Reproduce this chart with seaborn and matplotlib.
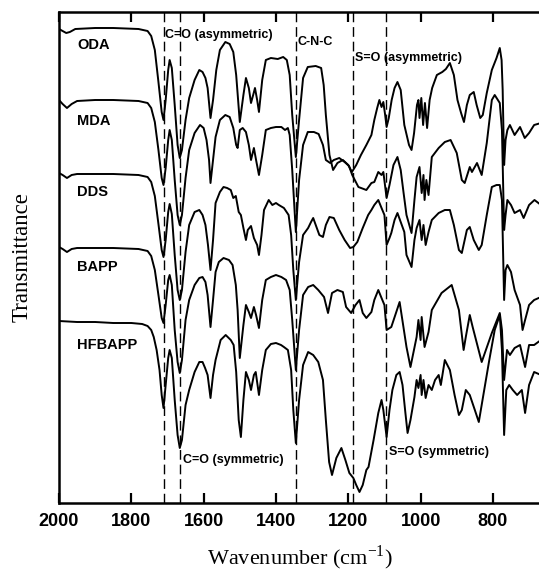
import matplotlib
matplotlib.use("Agg")
import matplotlib.pyplot as plt
import pandas as pd
import seaborn as sns

# FTIR traces: (wavenumber cm-1, transmittance, arbitrary units)
ODA = [(2000,471),(1990,469),(1980,467),(1970,468),(1955,471),(1900,472),(1850,472),(1780,471),(1755,469),(1745,464),(1735,450),(1725,418),(1716,388),(1711,380),(1705,400),(1698,430),(1694,440),(1688,432),(1680,395),(1672,355),(1666,342),(1660,350),(1650,380),(1640,402),(1625,420),(1612,430),(1603,428),(1595,422),(1589,412),(1581,382),(1574,400),(1565,430),(1555,450),(1540,458),(1528,456),(1518,448),(1510,425),(1500,378),(1490,405),(1483,422),(1475,412),(1469,397),(1463,405),(1458,412),(1452,400),(1447,388),(1438,420),(1428,440),(1414,442),(1395,441),(1380,443),(1370,440),(1362,425),(1355,385),(1345,343),(1336,380),(1325,422),(1312,433),(1290,434),(1275,432),(1268,415),(1262,385),(1252,345),(1242,330),(1230,337),(1215,340),(1200,335),(1190,328),(1178,335),(1165,345),(1150,355),(1136,365),(1128,380),(1120,392),(1114,400),(1108,393),(1103,398),(1098,385),(1094,373),(1088,382),(1080,400),(1072,412),(1064,418),(1055,410),(1045,375),(1032,355),(1025,350),(1018,367),(1010,395),(1006,400),(1003,382),(998,402),(993,375),(988,397),(982,372),(975,400),(968,412),(955,425),(940,428),(930,431),(919,437),(908,425),(898,400),(888,387),(880,378),(872,395),(864,405),(853,408),(845,395),(835,382),(828,385),(817,407),(803,430),(790,442),(781,452),(776,440),(773,410),(769,335),(765,360),(760,370),(753,375),(740,365),(725,373),(712,362),(700,367),(686,375),(667,377)]

MDA = [(2000,400),(1990,396),(1978,392),(1965,396),(1950,399),(1900,400),(1850,400),(1780,399),(1755,397),(1745,392),(1735,378),(1725,350),(1716,322),(1711,315),(1705,332),(1698,360),(1694,370),(1688,360),(1680,320),(1672,285),(1666,275),(1660,285),(1650,322),(1640,350),(1625,367),(1610,375),(1600,372),(1592,360),(1585,340),(1581,317),(1574,340),(1567,363),(1555,380),(1540,385),(1528,383),(1518,372),(1510,355),(1506,352),(1500,370),(1492,372),(1483,368),(1475,355),(1469,340),(1461,352),(1455,340),(1447,325),(1438,345),(1428,370),(1414,372),(1400,373),(1385,373),(1375,370),(1367,372),(1362,365),(1355,330),(1345,268),(1336,320),(1325,355),(1312,368),(1295,368),(1282,366),(1270,355),(1262,340),(1250,337),(1240,340),(1225,342),(1210,338),(1198,334),(1189,325),(1172,313),(1150,310),(1136,317),(1128,318),(1117,328),(1108,325),(1103,328),(1094,302),(1086,315),(1075,335),(1064,343),(1055,330),(1047,307),(1039,285),(1025,267),(1017,300),(1011,323),(1003,333),(997,307),(992,325),(989,300),(984,320),(978,305),(969,343),(950,352),(933,358),(917,360),(900,347),(886,320),(878,317),(864,333),(858,328),(844,337),(831,325),(817,357),(803,400),(795,405),(781,397),(775,370),(769,270),(765,285),(760,300),(750,295),(740,287),(725,290),(715,282),(700,295),(685,300),(667,295)]

DDS = [(2000,327),(1990,325),(1978,322),(1965,325),(1950,326),(1900,326),(1850,326),(1780,325),(1755,323),(1745,318),(1735,304),(1725,276),(1716,250),(1711,243),(1705,260),(1698,288),(1694,296),(1688,286),(1680,245),(1672,210),(1666,200),(1660,210),(1650,248),(1640,275),(1625,288),(1612,290),(1603,285),(1595,275),(1588,255),(1581,230),(1574,260),(1567,297),(1555,308),(1545,313),(1535,312),(1525,310),(1518,302),(1511,304),(1503,288),(1497,285),(1490,272),(1483,260),(1478,270),(1469,274),(1461,262),(1452,255),(1447,245),(1440,265),(1433,290),(1420,300),(1410,295),(1400,297),(1392,295),(1378,292),(1365,285),(1358,265),(1352,230),(1345,200),(1336,238),(1325,265),(1311,272),(1303,278),(1297,282),(1290,275),(1280,265),(1270,263),(1262,275),(1252,283),(1240,282),(1225,270),(1210,260),(1195,252),(1186,253),(1175,258),(1160,272),(1145,285),(1136,290),(1128,295),(1117,300),(1108,292),(1100,285),(1094,255),(1086,262),(1081,267),(1072,280),(1064,287),(1055,278),(1045,268),(1039,245),(1025,233),(1017,260),(1011,272),(1003,280),(997,260),(992,275),(986,255),(978,268),(969,280),(950,287),(933,290),(919,290),(908,275),(894,250),(886,247),(872,270),(864,273),(853,260),(839,250),(831,255),(817,285),(803,313),(790,315),(781,315),(775,300),(769,200),(765,230),(760,235),(750,228),(740,210),(725,195),(718,170),(711,180),(700,195),(686,200),(667,203)]

BAPP = [(2000,253),(1990,251),(1978,248),(1965,251),(1950,252),(1900,252),(1850,252),(1780,251),(1755,249),(1745,244),(1735,230),(1725,205),(1716,182),(1711,177),(1705,195),(1698,220),(1694,225),(1688,215),(1680,170),(1672,138),(1666,127),(1660,140),(1650,180),(1640,200),(1625,215),(1612,222),(1603,223),(1595,218),(1589,205),(1581,173),(1574,200),(1567,228),(1558,238),(1545,242),(1530,240),(1520,235),(1511,215),(1506,190),(1500,142),(1490,175),(1483,195),(1475,188),(1469,182),(1461,193),(1455,185),(1447,172),(1438,200),(1428,220),(1414,223),(1400,225),(1385,223),(1372,220),(1362,210),(1355,180),(1345,130),(1336,170),(1325,205),(1311,213),(1297,215),(1283,210),(1267,203),(1256,187),(1245,207),(1230,210),(1215,208),(1206,193),(1192,187),(1180,195),(1169,200),(1160,187),(1150,182),(1136,188),(1128,200),(1117,210),(1108,202),(1100,195),(1094,170),(1081,173),(1058,198),(1039,153),(1028,133),(1011,163),(1006,180),(1000,160),(997,183),(989,153),(978,168),(969,190),(942,207),(914,215),(894,190),(881,150),(875,163),(864,185),(856,173),(831,138),(803,167),(781,187),(775,170),(769,120),(761,150),(753,145),(740,152),(725,155),(711,133),(700,155),(686,155),(667,160)]

HFBAPP = [(2000,179),(1950,178),(1900,178),(1850,177),(1800,177),(1770,176),(1755,174),(1745,170),(1738,163),(1730,150),(1722,130),(1716,105),(1711,92),(1705,115),(1698,142),(1694,150),(1688,142),(1680,100),(1672,65),(1666,52),(1660,60),(1650,95),(1640,110),(1625,128),(1612,138),(1603,138),(1596,132),(1589,125),(1581,102),(1574,125),(1567,140),(1553,160),(1539,165),(1525,160),(1517,155),(1510,128),(1503,80),(1497,63),(1490,100),(1483,128),(1475,120),(1469,110),(1461,125),(1456,128),(1447,105),(1438,130),(1428,150),(1414,156),(1400,157),(1386,155),(1378,153),(1367,150),(1358,130),(1352,90),(1345,57),(1336,100),(1325,135),(1311,148),(1297,145),(1283,138),(1270,120),(1262,80),(1253,38),(1245,25),(1233,42),(1219,52),(1208,40),(1197,27),(1186,22),(1178,15),(1169,8),(1160,15),(1150,30),(1144,33),(1130,60),(1117,87),(1108,100),(1103,90),(1098,75),(1094,63),(1086,90),(1078,110),(1067,125),(1058,128),(1050,115),(1042,87),(1036,67),(1028,80),(1017,103),(1011,120),(1006,112),(1000,125),(997,105),(992,120),(986,102),(978,115),(969,110),(960,120),(950,125),(944,115),(933,140),(919,130),(906,105),(894,85),(886,90),(875,110),(864,105),(850,90),(839,78),(825,108),(810,140),(795,170),(781,185),(775,150),(769,65),(763,110),(755,115),(745,110),(733,105),(720,110),(711,87),(700,115),(686,128),(667,125)]

films = ["ODA", "MDA", "DDS", "BAPP", "HFBAPP"]
traces = [ODA, MDA, DDS, BAPP, HFBAPP]

# trace label positions: (wavenumber, transmittance)
label_pos = [(1950, 455), (1950, 379), (1950, 308), (1950, 233), (1950, 155)]

# band markers and their labels
band_lines = [1710, 1665, 1345, 1187, 1095]
band_text = [
    ("C=O (asymmetric)", 1706, 465),
    ("C-N-C", 1340, 458),
    ("S=O (asymmetric)", 1181, 442),
    ("C=O (symmetric)", 1658, 40),
    ("S=O (symmetric)", 1086, 48),
]

rows = []
for name, tr in zip(films, traces):
    for wn, t in tr:
        rows.append({"film": name, "wavenumber": wn, "T": t})
df = pd.DataFrame(rows)

sns.set_theme(style="white")
plt.rcParams["font.family"] = ["Liberation Sans", "DejaVu Sans"]
plt.rcParams["text.color"] = "black"
plt.rcParams["axes.labelcolor"] = "black"
plt.rcParams["xtick.color"] = "black"

fig = plt.figure(figsize=(5.39, 5.77), dpi=100)
ax = fig.add_axes([59 / 539, 74 / 577, 482 / 539, 491 / 577])

sns.lineplot(data=df, x="wavenumber", y="T", units="film", estimator=None,
             color="black", linewidth=1.4, ax=ax, legend=False)

for wn in band_lines:
    ax.axvline(wn, color="black", linestyle=(0, (7, 3.5)), linewidth=1.0)

for name, (x, y) in zip(films, label_pos):
    ax.text(x, y, name, ha="left", va="center", fontsize=10.5, fontweight="bold")

for txt, x, y in band_text:
    ax.text(x, y, txt, ha="left", va="center", fontsize=9, fontweight="bold")

ax.set_xlim(2000, 667)
ax.set_ylim(-3, 488)
ax.set_xticks([2000, 1800, 1600, 1400, 1200, 1000, 800])
ax.set_yticks([])
ax.tick_params(axis="x", direction="in", length=7, width=1.6, top=True, bottom=True,
               labelsize=13, pad=7, colors="black")
for lab in ax.get_xticklabels():
    lab.set_fontweight("bold")

for s in ["left", "bottom", "top"]:
    ax.spines[s].set_linewidth(1.8)
    ax.spines[s].set_color("black")
ax.spines["right"].set_visible(False)

ax.set_xlabel("Wavenumber (cm$^{\\mathregular{-1}}$)", family="Liberation Serif", fontsize=16, labelpad=10)
ax.set_ylabel("Transmittance", family="Liberation Serif", fontsize=16.5, labelpad=19)

fig.savefig("out.png", dpi=100)
